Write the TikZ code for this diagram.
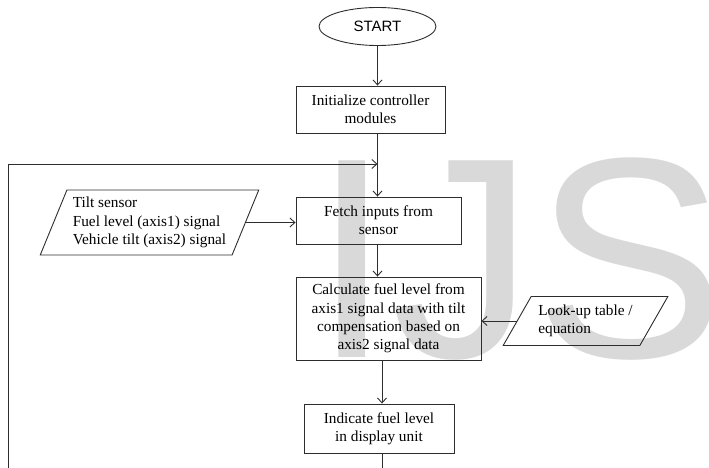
\documentclass[tikz,border=0pt]{standalone}
\usepackage{fontspec}
\setmainfont{Liberation Serif}
\newfontfamily\headfont{Liberation Sans}
\usetikzlibrary{shapes.geometric,arrows.meta,positioning,calc}
\definecolor{lineink}{RGB}{45,45,45}
\definecolor{markgray}{RGB}{217,217,217}
\tikzset{
  procbox/.style={draw=lineink,line width=0.9pt,align=center,inner sep=2pt,
                  font=\fontsize{15.3}{18.3}\selectfont},
  iobox/.style={trapezium,trapezium stretches=true,draw=lineink,line width=0.9pt,
                align=left,inner sep=2pt,font=\fontsize{15.3}{18.3}\selectfont},
  termnode/.style={ellipse,draw=lineink,line width=0.9pt,inner sep=0pt,
                   font=\headfont\fontsize{15}{18}\selectfont},
  arr/.style={-{Straight Barb[length=5pt,width=9pt]},line width=0.9pt,draw=lineink},
}

\begin{document}
\begin{tikzpicture}[x=1pt,y=1pt]
        \useasboundingbox (0,0) rectangle (709,-468);
        % watermark behind the chart
        \node[anchor=base west,inner sep=0pt,text=markgray,
              font=\headfont\fontsize{286}{286}\selectfont]
              (mark) at (312,-357) {IJS};
        \node[termnode,minimum width=117pt,minimum height=38pt]
              (start) at (377.5,-26.5) {START};
        \node[procbox,minimum width=149pt,minimum height=47pt]
              (init) at (370.5,-109.5) {Initialize controller\\modules};
        \node[procbox,minimum width=165pt,minimum height=47pt]
              (fetch) at (378.5,-220.5) {Fetch inputs from\\sensor};
        \node[procbox,minimum width=185pt,minimum height=83pt]
              (calc) at (388.5,-318.5) {Calculate fuel level from\\axis1 signal data with tilt\\compensation based on\\axis2 signal data};
        \node[procbox,minimum width=150pt,minimum height=49pt]
              (show) at (379,-428.5) {Indicate fuel level\\in display unit};
        \node[iobox,trapezium left angle=65,trapezium right angle=115,
              minimum width=219pt,minimum height=65pt]
              (tilt) at (149.5,-222.5) {Tilt sensor\\Fuel level (axis1) signal\\Vehicle tilt (axis2) signal};
        \node[iobox,trapezium left angle=55,trapezium right angle=125,
              minimum width=165pt,minimum height=49pt]
              (look) at (585.5,-321) {Look-up table /\\equation};
        % axis points and loop corner
        \coordinate (join) at (377.5,-164);
        \coordinate (lowaxis) at (382,0);
        \coordinate (loopleft) at (8,-164);
        \draw[arr](start)--(start|-init.north);
        \draw[arr](init.south-|start)--(fetch.north-|start);
        \draw[arr](fetch.south-|start)--(calc.north-|start);
        \draw[arr](calc.south-|lowaxis)--(show.north-|lowaxis);
        \draw[arr](tilt.east)--(tilt.east-|fetch.west);
        \draw[arr](look.west)--(look.west-|calc.east);
        \draw[arr](show.south-|lowaxis)--++(0,-40)-|(loopleft)--(join);
      \end{tikzpicture}
\end{document}
